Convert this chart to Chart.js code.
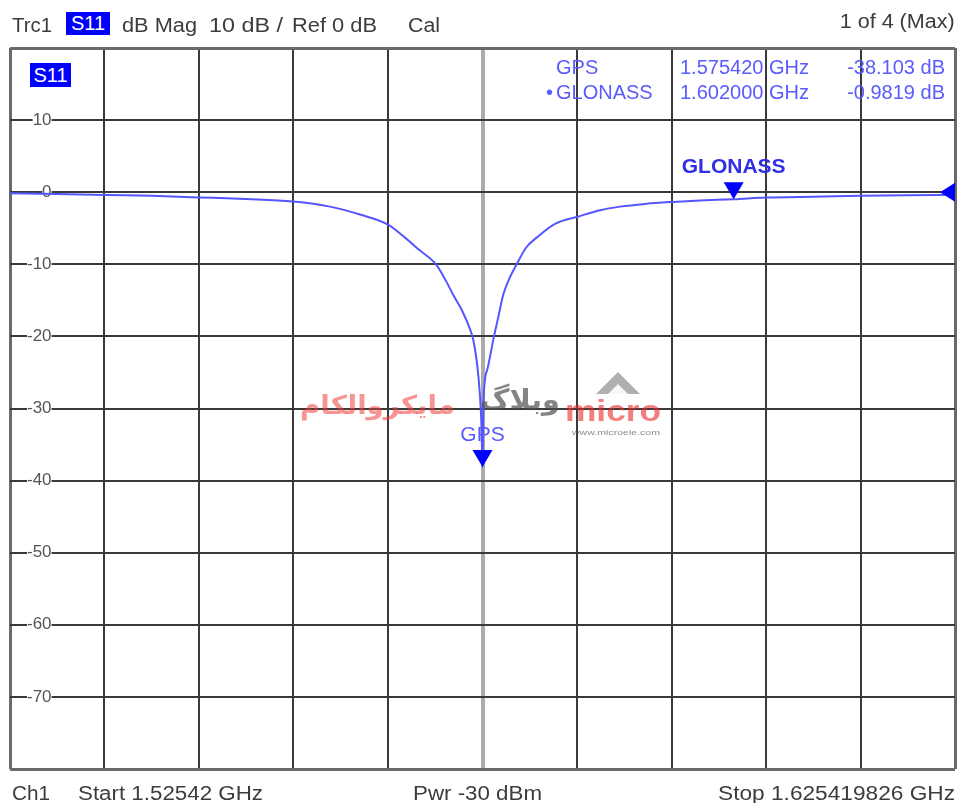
<!DOCTYPE html>
<html>
<head>
<meta charset="utf-8">
<script src="https://cdn.jsdelivr.net/npm/chart.js@4.4.1/dist/chart.umd.min.js"></script>
<style>
html,body{margin:0;padding:0;background:#fff;}
#wrap{position:relative;width:957px;height:803px;overflow:hidden;font-family:"Liberation Sans",Arial,sans-serif;}
#c{position:absolute;left:0;top:0;}
.t{position:absolute;white-space:nowrap;}
#roof{position:absolute;left:596px;top:372px;width:0;height:0;border-left:22px solid transparent;border-right:22px solid transparent;border-bottom:22px solid rgba(110,110,110,0.55);}
#roof2{position:absolute;left:604px;top:384px;width:0;height:0;border-left:14px solid transparent;border-right:14px solid transparent;border-bottom:14px solid rgba(255,255,255,0.9);}
</style>
</head>
<body>
<div id="wrap"><canvas id="c" width="957" height="803"></canvas><div id="roof"></div><div id="roof2"></div></div>
<script>
// ---- data ----
const freqGHz = [1.525420, 1.530394, 1.535473, 1.540446, 1.545420, 1.550394, 1.555367, 1.559284,
  1.562459, 1.565420, 1.567219, 1.568807, 1.570500, 1.571558, 1.572299, 1.573252, 1.574098,
  1.574447, 1.574913, 1.575156, 1.575315, 1.575420, 1.575520, 1.575928, 1.576637, 1.577060,
  1.577621, 1.578224, 1.579039, 1.580023, 1.581155, 1.583092, 1.585494, 1.587854, 1.589970,
  1.592616, 1.595579, 1.598436, 1.602000, 1.605420, 1.610394, 1.615367, 1.620446, 1.625420];
const s11dB = [-0.15, -0.25, -0.40, -0.50, -0.72, -0.95, -1.30, -2.00,
  -3.10, -4.50, -6.30, -8.10, -10.00, -12.30, -14.20, -16.40, -19.00,
  -20.50, -24.60, -28.30, -32.50, -38.10, -29.00, -24.60, -20.00, -17.50,
  -14.20, -12.10, -10.00, -7.70, -6.30, -4.40, -3.40, -2.50, -2.00,
  -1.62, -1.35, -1.15, -0.98, -0.75, -0.62, -0.50, -0.42, -0.37];
const sweepGHz = [1.52542, 1.625419826];     // start, stop
const yRangeDb = [-80, 20];                  // bottom, top
const yDivDb = [10];
const refLevelDb = [0];
const powerDbm = [-30];
const markerNames = ['GPS', 'GLONASS'];
const markerFreqGHz = [1.57542, 1.602];
const markerDb = [-38.103, -0.9819];
const activeMarker = [1];
const headerTexts = ['Trc1', 'S11', 'dB Mag', 'Cal', '1 of 4 (Max)'];
const channelName = ['Ch1'];

// ---- HTML text ----
const wrap = document.getElementById('wrap');
function place(text, o) {
  const d = document.createElement('div');
  d.className = 't';
  d.textContent = text;
  const size = o.size || 20;
  d.style.fontSize = size + 'px';
  d.style.lineHeight = size + 'px';
  d.style.color = o.color || '#3c3c3c';
  d.style.fontWeight = o.weight || 'normal';
  if (o.family) d.style.fontFamily = o.family;
  wrap.appendChild(d);
  const nat = d.getBoundingClientRect().width;
  const sx = o.w ? o.w / nat : 1;
  d.style.top = (o.cy - size / 2) + 'px';
  if (o.left != null) { d.style.left = o.left + 'px'; d.style.transformOrigin = 'left center'; }
  else { d.style.right = (957 - o.right) + 'px'; d.style.transformOrigin = 'right center'; }
  d.style.transform = 'scaleX(' + sx + ')';
  return d;
}
function box(text, left, top, w, h) {
  const d = document.createElement('div');
  d.className = 't';
  d.textContent = text;
  Object.assign(d.style, {left: left + 'px', top: top + 'px', width: w + 'px', height: h + 'px',
    background: '#0000ff', color: '#fff', fontSize: '20px', lineHeight: h + 'px', textAlign: 'center'});
  wrap.appendChild(d);
}
// header
place(headerTexts[0], {left: 12, cy: 25, w: 40});
box(headerTexts[1], 66, 12, 44, 23);
place(headerTexts[2], {left: 122, cy: 25, w: 75});
place(yDivDb[0] + ' dB /', {left: 209, cy: 25, w: 74});
place('Ref ' + refLevelDb[0] + ' dB', {left: 292, cy: 25, w: 85});
place(headerTexts[3], {left: 408, cy: 25, w: 32});
place(headerTexts[4], {right: 955, cy: 21, w: 115});
// trace label inside plot
box(headerTexts[1], 30, 63, 41, 24);
// marker table
const tblColor = '#5a5aff';
markerNames.forEach((n, i) => {
  const cy = 67 + i * 25;
  if (i === activeMarker[0]) place('•', {right: 553, cy: cy, color: tblColor});
  place(n, {left: 556, cy: cy, color: tblColor});
  place(markerFreqGHz[i].toFixed(6) + ' GHz', {left: 680, cy: cy, color: tblColor});
  place(String(markerDb[i]) + ' dB', {right: 945, cy: cy, color: tblColor});
});
// footer
place(channelName[0], {left: 12, cy: 793, w: 38});
place('Start ' + sweepGHz[0] + ' GHz', {left: 78, cy: 793, w: 185});
place('Pwr ' + powerDbm[0] + ' dBm', {left: 413, cy: 793, w: 129});
place('Stop ' + sweepGHz[1] + ' GHz', {right: 955, cy: 793, w: 237});

// watermark
place('مایکروالکام', {left: 300, cy: 405, w: 155, size: 26, weight: 'bold', family: '"DejaVu Sans"', color: 'rgba(240,60,60,0.55)'});
place('وبلاگ', {left: 480, cy: 400, w: 80, size: 28, weight: 'bold', family: '"DejaVu Sans"', color: 'rgba(80,80,80,0.7)'});
place('micro', {left: 565, cy: 411, w: 96, size: 30, weight: 'bold', color: 'rgba(235,40,40,0.6)'});
place('www.microele.com', {left: 572, cy: 433, w: 88, size: 8, color: 'rgba(90,90,90,0.7)'});

// ---- chart ----
const xGrid = Array.from({length: 11}, (_, k) => sweepGHz[0] + k * (sweepGHz[1] - sweepGHz[0]) / 10);

const markerPlugin = {
  id: 'markers',
  afterDatasetsDraw(chart) {
    const {ctx, scales: {x, y}, chartArea} = chart;
    ctx.save();
    markerNames.forEach((n, i) => {
      const px = x.getPixelForValue(markerFreqGHz[i]);
      const py = y.getPixelForValue(markerDb[i]);
      ctx.fillStyle = '#0000ff';
      ctx.beginPath();
      ctx.moveTo(px, py);
      ctx.lineTo(px - 10, py - 17);
      ctx.lineTo(px + 10, py - 17);
      ctx.closePath();
      ctx.fill();
      const active = i === activeMarker[0];
      ctx.font = (active ? 'bold ' : '') + '21px "Liberation Sans", Arial, sans-serif';
      ctx.fillStyle = active ? '#2f2fe8' : '#5a5aff';
      ctx.textAlign = 'center';
      ctx.textBaseline = 'middle';
      ctx.fillText(n, px, py - 32);
    });
    // reference level marker on right edge
    const ry = y.getPixelForValue(refLevelDb[0]);
    const rx = chartArea.right;
    ctx.fillStyle = '#0000ff';
    ctx.beginPath();
    ctx.moveTo(rx - 15, ry);
    ctx.lineTo(rx, ry - 9.5);
    ctx.lineTo(rx, ry + 9.5);
    ctx.closePath();
    ctx.fill();
    ctx.restore();
  }
};

new Chart(document.getElementById('c'), {
  type: 'line',
  data: {
    datasets: [{
      data: freqGHz.map((f, i) => ({x: f, y: s11dB[i]})),
      borderColor: '#5656ff',
      borderWidth: 2,
      pointRadius: 0,
      cubicInterpolationMode: 'monotone',
      fill: false
    }]
  },
  options: {
    responsive: false,
    animation: false,
    devicePixelRatio: 1,
    layout: {padding: {left: 10, top: 48, right: 2, bottom: 34}},
    plugins: {legend: {display: false}, tooltip: {enabled: false}},
    scales: {
      x: {
        type: 'linear',
        min: sweepGHz[0],
        max: sweepGHz[1],
        afterBuildTicks: s => { s.ticks = xGrid.map(v => ({value: v})); },
        afterFit: s => { s.height = 0; },
        ticks: {display: false},
        border: {display: false},
        grid: {
          drawTicks: false,
          color: c => c.index === 5 ? '#ababab' : (c.index === 0 || c.index === 10 ? '#6a6a6a' : '#3a3a3a'),
          lineWidth: c => c.index === 5 ? 4 : (c.index === 0 || c.index === 10 ? 3 : 2)
        }
      },
      y: {
        type: 'linear',
        min: yRangeDb[0],
        max: yRangeDb[1],
        afterFit: s => { s.width = 0; },
        ticks: {
          stepSize: yDivDb[0],
          mirror: true,
          crossAlign: 'far',
          padding: 17,
          color: '#555',
          font: {family: '"Liberation Sans", Arial, sans-serif', size: 17},
          showLabelBackdrop: true,
          backdropColor: c => (c.tick && (c.tick.value === yRangeDb[0] || c.tick.value === yRangeDb[1])) ? 'rgba(0,0,0,0)' : '#fff',
          backdropPadding: c => {
            const len = c.tick ? String(c.tick.value).length : 2;
            return {top: 0, bottom: 0, left: len === 1 ? 10 : (len === 2 ? 1 : 3), right: 2};
          },
          callback: v => (v === yRangeDb[0] || v === yRangeDb[1]) ? '' : String(v)
        },
        border: {display: false},
        grid: {
          drawTicks: false,
          color: c => (c.index === 0 || c.index === 10) ? '#6a6a6a' : '#3a3a3a',
          lineWidth: c => (c.index === 0 || c.index === 10) ? 3 : 2
        }
      }
    }
  },
  plugins: [markerPlugin]
});
</script>
</body>
</html>
